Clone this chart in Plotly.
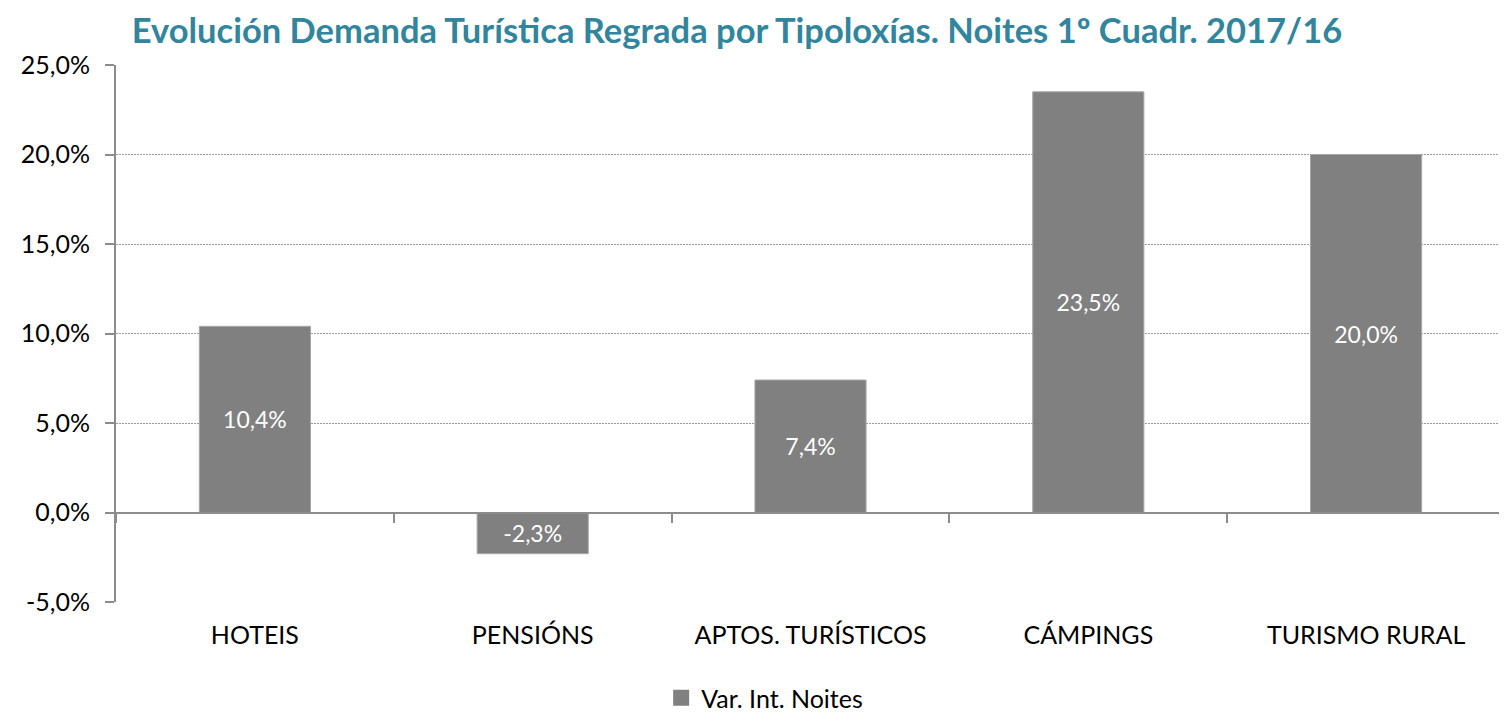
import plotly.graph_objects as go

categories = ["HOTEIS", "PENSIÓNS", "APTOS. TURÍSTICOS", "CÁMPINGS", "TURISMO RURAL"]
values = [10.4, -2.3, 7.4, 23.5, 20.0]
series_name = "Var. Int. Noites"
title_text = "Evolución Demanda Turística Regrada por Tipoloxías. Noites 1º Cuadr. 2017/16"
y_ticks = [-5, 0, 5, 10, 15, 20, 25]


def pct(v):
    return f"{v:.1f}%".replace(".", ",")


y_tick_text = [pct(v) for v in y_ticks]
bar_text = [pct(v) for v in values]

FONT = "Lato, Carlito, Calibri, sans-serif"
BAR = "#808080"
# page body has an 8px margin; figure sized to fit the 1507x715 window
W, H = 1499, 707

fig = go.Figure()
fig.add_trace(go.Bar(
    x=categories, y=values, name=series_name,
    marker=dict(color=BAR, line=dict(color="#a6a6a6", width=1)),
    width=0.4,
    text=bar_text, texttemplate="%{text}", textposition="inside", insidetextanchor="middle",
    textfont=dict(color="white", size=23, family=FONT),
    showlegend=False,
))
# legend entry with a larger square swatch
fig.add_trace(go.Scatter(x=[categories[0]], y=[None], mode="markers", name=series_name,
                         marker=dict(symbol="square", size=16, color=BAR), showlegend=True,
                         hoverinfo="skip"))
# helper trace on secondary x axis: axis line at zero with boundary ticks
fig.add_trace(go.Bar(x=categories, y=[0] * len(categories), xaxis="x2", showlegend=False,
                     marker=dict(color="rgba(0,0,0,0)"), hoverinfo="skip"))

ymin, ymax = -5, 25
fig.update_layout(
    width=W, height=H,
    paper_bgcolor="white", plot_bgcolor="white",
    margin=dict(l=108, r=2, t=57, b=113),
    title=dict(text="<b>" + title_text + "</b>", x=729 / W, xanchor="center", xref="container",
               y=1 - 23 / H, yanchor="middle", yref="container",
               font=dict(family=FONT, size=34.5, color="#31859C")),
    font=dict(family=FONT, size=25, color="black"),
    xaxis=dict(showline=False, ticks="", showgrid=False, zeroline=False,
               tickfont=dict(size=25, family=FONT), ticklabelstandoff=16),
    xaxis2=dict(overlaying="x", anchor="free", position=(0 - ymin) / (ymax - ymin),
                showticklabels=False, ticks="outside", tickson="boundaries", ticklen=9,
                tickcolor="#8c8c8c", tickwidth=1.5, showline=True, linecolor="#8c8c8c",
                linewidth=2, showgrid=False, zeroline=False, side="bottom"),
    yaxis=dict(range=[ymin, ymax], tickvals=y_ticks, ticktext=y_tick_text,
               showgrid=True, gridcolor="#9a9a9a", griddash="1.5px,1.5px", gridwidth=1,
               zeroline=False, showline=True, linecolor="#8c8c8c", linewidth=2,
               ticks="outside", ticklen=9, tickcolor="#8c8c8c", tickwidth=1.5,
               ticklabelstandoff=10,
               tickfont=dict(size=25, family=FONT)),
    legend=dict(orientation="h", x=0.467, xanchor="center", y=1 - 690 / H, yanchor="middle",
                yref="container", font=dict(size=25, family=FONT), itemwidth=30),
    bargap=0.6,
)
fig.write_html("out.html")
